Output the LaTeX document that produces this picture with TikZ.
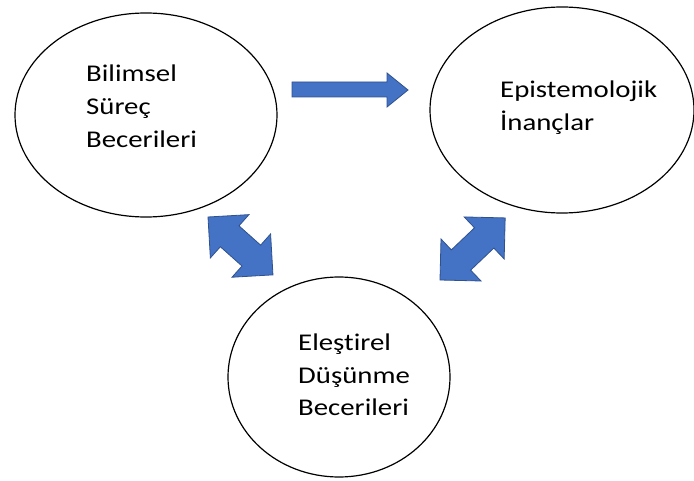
\documentclass[tikz,border=0pt]{standalone}
\usepackage{fontspec}
\setmainfont{Carlito}[FakeStretch=1.2, Ligatures={NoCommon}]
\usetikzlibrary{shapes.geometric}
\definecolor{arrowfill}{HTML}{4472C4}
\definecolor{arrowline}{HTML}{2F528F}
% left-aligned block of lines whose baseline is the first line's baseline
\newcommand\stacktext[1]{\begin{tabular}[t]{@{}l@{}}#1\end{tabular}}
\tikzset{
  bubble/.style={draw=black, line width=1.2pt, ellipse, inner sep=0pt},
  label text/.style={anchor=base west, inner sep=0pt,
    font=\fontsize{24}{33}\selectfont, text=black},
  blockarrow/.style={fill=arrowfill, draw=arrowline, line width=0.8pt, line join=miter},
}
\begin{document}
\begin{tikzpicture}[x=1pt, y=-1pt]
  \useasboundingbox (0,0) rectangle (694,481);

  % the three concept ellipses
  \node[bubble, minimum width=262pt, minimum height=204pt] (bsb) at (146,115) {};
  \node[bubble, minimum width=264pt, minimum height=206pt] (ei) at (562,110) {};
  \node[bubble, minimum width=222pt, minimum height=200pt] (edb) at (339,377) {};

  % labels
  \node[label text] (bsbtext) at (86,82) {\stacktext{Bilimsel\\Süreç\\Becerileri}};
  \node[label text] (eitext) at (500,98) {\stacktext{Epistemolojik\\İnançlar}};
  \node[label text] (edbtext) at (298,350) {\stacktext{Eleştirel\\Düşünme\\Becerileri}};

  % single block arrow: Bilimsel Süreç -> Epistemolojik
  \coordinate (r0) at (292,90);
  \coordinate (r1) at (408,90);
  \draw[blockarrow] (292,82) -- (387,82) -- (387,73) -- (r1) -- (387,107)
    -- (387,97) -- (292,97) -- cycle;

  % double block arrows (local frame: tip at origin, axis along x)
  \coordinate (a1) at (208,217);
  \coordinate (b1) at (273,275);
  \draw[blockarrow, shift={(a1)}, rotate=-41.7]
    (0,0) -- (29,29) -- (29,14) -- (58,14) -- (58,29) -- (87,0)
    -- (58,-29) -- (58,-14) -- (29,-14) -- (29,-29) -- cycle;

  \coordinate (a2) at (440,280);
  \coordinate (b2) at (505,218);
  \draw[blockarrow, shift={(a2)}, rotate=43.6]
    (0,0) -- (29,29) -- (29,14) -- (61,14) -- (61,29) -- (90,0)
    -- (61,-29) -- (61,-14) -- (29,-14) -- (29,-29) -- cycle;
\end{tikzpicture}
\end{document}
